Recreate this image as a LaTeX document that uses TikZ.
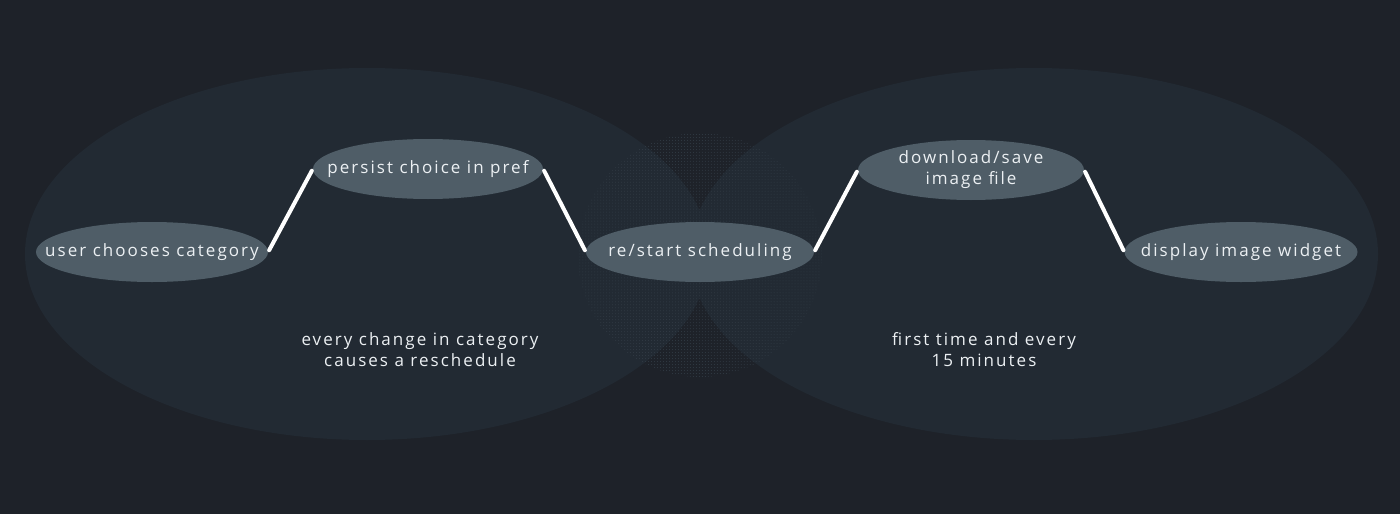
\documentclass[tikz,border=0pt]{standalone}
\usepackage{fontspec}
\setmainfont[LetterSpace=12]{Open Sans}
\usepackage{tikz}
\usetikzlibrary{shapes,patterns}

\definecolor{bgdark}{RGB}{30,34,41}
\definecolor{bigpool}{RGB}{34,42,51}
\definecolor{stepfill}{RGB}{79,93,103}
\definecolor{dotgray}{RGB}{50,60,70}
\definecolor{textwhite}{RGB}{236,240,243}

\begin{document}
\begin{tikzpicture}[
  stepnode/.style={draw=none,ellipse,fill=stepfill,inner xsep=-150bp,inner ysep=-40bp,minimum width=230bp,minimum height=60bp,text=textwhite,font=\fontsize{17bp}{21bp}\selectfont,align=center},
  notetext/.style={text=textwhite,font=\fontsize{17bp}{21bp}\selectfont,align=center},
  link/.style={line width=4bp,line cap=round,draw=white,shorten <=2bp,shorten >=2bp}
]

\fill [bgdark] (0bp,0bp) rectangle (1400bp,-514bp);
\useasboundingbox (0bp,0bp) rectangle (1400bp,-514bp);

\fill [bigpool] (367bp,-254bp) ellipse [x radius=342bp,y radius=186bp];
\fill [bigpool] (1034bp,-254bp) ellipse [x radius=344bp,y radius=186bp];
\fill [pattern=dots,pattern color=dotgray] (700bp,-255bp) circle [radius=122bp];

\node (U) at (152bp,-252bp)[stepnode,minimum width=232bp] {user chooses category};
\node (P) at (428bp,-169bp)[stepnode] {persist choice in pref};
\node (R) at (700bp,-252bp)[stepnode,minimum width=228bp] {re/start scheduling};
\node (D) at (971bp,-170bp)[stepnode,minimum width=226bp] {download/save\\image file};
\node (W) at (1241bp,-252bp)[stepnode,minimum width=233bp] {display image widget};

\node (C1) at (420bp,-350bp)[notetext] {every change in category\\causes a reschedule};
\node (C2) at (984bp,-350bp)[notetext] {first time and every\\15 minutes};

\draw [link] (U.east) -- (P.west);
\draw [link] (P.east) -- (R.west);
\draw [link] (R.east) -- (D.west);
\draw [link] (D.east) -- (W.west);
\end{tikzpicture}
\end{document}
